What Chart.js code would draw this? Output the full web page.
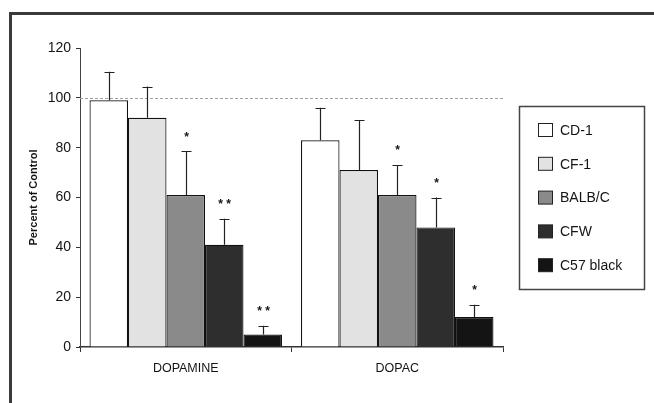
<!DOCTYPE html>
<html>
<head>
<meta charset="utf-8">
<script src="https://cdn.jsdelivr.net/npm/chart.js@4"></script>
<style>
  body { margin: 0; background: #fff; }
  #wrap { position: relative; width: 654px; height: 403px; overflow: hidden; }
  #frame { position: absolute; left: 9px; top: 12px; right: 0; bottom: 0;
           border-top: 3px solid #3a3a3a; border-left: 3px solid #3a3a3a; }
  canvas { position: absolute; left: 0; top: 0; }
</style>
</head>
<body>
<div id="wrap">
  <div id="frame"></div>
  <canvas id="chart" width="654" height="403"></canvas>
</div>
<script>
// data
let groups = ["DOPAMINE", "DOPAC"];
let strains = ["CD-1", "CF-1", "BALB/C", "CFW", "C57 black"];
let fills = ["#ffffff", "#e2e2e2", "#8a8a8a", "#2e2e2e", "#141414"];

// percent of control, one array per strain: [DOPAMINE, DOPAC]
let cd1 = [99, 83];
let cf1 = [92, 71];
let balbc = [61, 61];
let cfw = [41, 48];
let c57 = [5, 12];

// upper error bar length (same order)
let cd1Err = [11.5, 13];
let cf1Err = [12.5, 20];
let balbcErr = [17.5, 12];
let cfwErr = [10.5, 12];
let c57Err = [3.5, 5];

// significance marks
let cd1Sig = ["", ""];
let cf1Sig = ["", ""];
let balbcSig = ["*", "*"];
let cfwSig = ["**", "*"];
let c57Sig = ["**", "*"];

let yTicks = [0, 20, 40, 60, 80, 100, 120];
let controlLevel = 100;

let values = [cd1, cf1, balbc, cfw, c57];
let errors = [cd1Err, cf1Err, balbcErr, cfwErr, c57Err];
let marks = [cd1Sig, cf1Sig, balbcSig, cfwSig, c57Sig];

const FONT = "'Liberation Sans', Arial, sans-serif";
const INK = '#141414';

const extras = {
    id: 'extras',
    beforeDatasetsDraw(chart) {
        // dotted line at 100% of control
        let ctx = chart.ctx;
        let area = chart.chartArea;
        let py = Math.round(chart.scales.y.getPixelForValue(controlLevel)) + 0.5;
        ctx.save();
        ctx.strokeStyle = '#a0a0a0';
        ctx.lineWidth = 1;
        ctx.setLineDash([3, 2]);
        ctx.beginPath();
        ctx.moveTo(area.left, py);
        ctx.lineTo(area.right, py);
        ctx.stroke();
        ctx.restore();
    },
    afterDatasetsDraw(chart) {
        let ctx = chart.ctx;
        let y = chart.scales.y;
        ctx.save();
        ctx.strokeStyle = '#222';
        ctx.lineWidth = 1.2;
        ctx.fillStyle = INK;
        ctx.font = 'bold 12px ' + FONT;
        ctx.textAlign = 'center';
        ctx.textBaseline = 'middle';
        chart.data.datasets.forEach((ds, i) => {
            let meta = chart.getDatasetMeta(i);
            meta.data.forEach((bar, j) => {
                let x = Math.round(bar.x) + 0.5;
                let top = y.getPixelForValue(values[i][j] + errors[i][j]);
                ctx.beginPath();
                ctx.moveTo(x, bar.y);
                ctx.lineTo(x, top);
                ctx.moveTo(x - 5, Math.round(top) + 0.5);
                ctx.lineTo(x + 5, Math.round(top) + 0.5);
                ctx.stroke();
                if (marks[i][j]) {
                    ctx.fillText(marks[i][j].split('').join(' '), x, top - 14);
                }
            });
        });
        ctx.restore();
    },
    afterDraw(chart) {
        // boxed legend on the right
        let ctx = chart.ctx;
        ctx.save();
        ctx.strokeStyle = '#444';
        ctx.lineWidth = 1.5;
        ctx.strokeRect(519.5, 106.5, 125, 183);
        ctx.font = '14px ' + FONT;
        ctx.textBaseline = 'middle';
        ctx.textAlign = 'left';
        chart.data.datasets.forEach((ds, i) => {
            let cy = 130 + i * 33.8;
            ctx.fillStyle = ds.backgroundColor;
            ctx.fillRect(538.5, cy - 6.5, 14, 13);
            ctx.strokeStyle = '#222';
            ctx.lineWidth = 1;
            ctx.strokeRect(538.5, cy - 6.5, 14, 13);
            ctx.fillStyle = INK;
            ctx.fillText(ds.label, 560, cy + 1);
        });
        ctx.restore();
    }
};

let ctx = document.getElementById("chart").getContext("2d");
let chart = new Chart(ctx, {
    type: 'bar',
    data: {
        labels: groups,
        datasets: strains.map((name, i) => ({
            label: name,
            data: values[i],
            backgroundColor: fills[i],
            borderColor: '#111',
            borderWidth: 1.2,
            borderSkipped: 'bottom',
            barPercentage: 1.0,
            categoryPercentage: 0.91
        }))
    },
    options: {
        responsive: false,
        animation: false,
        layout: { padding: { left: 20, right: 151, top: 48, bottom: 26 } },
        plugins: {
            legend: { display: false },
            tooltip: { enabled: false }
        },
        scales: {
            x: {
                afterFit: s => { s.height = 30; },
                grid: { drawOnChartArea: false, tickLength: 5, color: '#333' },
                border: { display: true, color: '#333', width: 1.5 },
                ticks: { font: { family: FONT, size: 12.5 }, color: INK, padding: 9 }
            },
            y: {
                min: 0,
                max: 120,
                afterFit: s => { s.width = 60; },
                afterBuildTicks: s => { s.ticks = yTicks.map(v => ({ value: v })); },
                grid: { drawOnChartArea: false, tickLength: 4, color: '#333' },
                border: { display: true, color: '#444', width: 1 },
                ticks: { font: { family: FONT, size: 14 }, color: INK, padding: 5 },
                title: {
                    display: true,
                    text: 'Percent of Control',
                    font: { family: FONT, size: 11, weight: 'bold' },
                    color: INK,
                    padding: { top: 7, bottom: 0 }
                }
            }
        }
    },
    plugins: [extras]
});
</script>
</body>
</html>
